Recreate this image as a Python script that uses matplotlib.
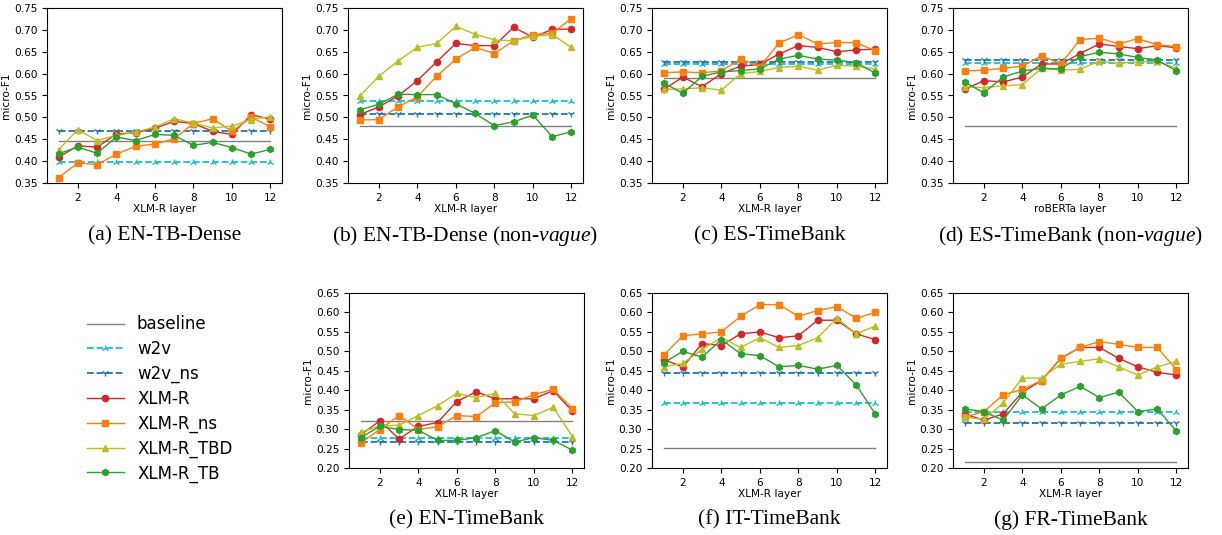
import matplotlib
matplotlib.use('Agg')
import matplotlib.pyplot as plt

layers = list(range(1, 13))

titles = ['(a) EN-TB-Dense', '(b) EN-TB-Dense (non-$\\mathit{vague}$)', '(c) ES-TimeBank',
          '(d) ES-TimeBank (non-$\\mathit{vague}$)', '(e) EN-TimeBank', '(f) IT-TimeBank',
          '(g) FR-TimeBank']
xlabels = ['XLM-R layer', 'XLM-R layer', 'XLM-R layer', 'roBERTa layer',
           'XLM-R layer', 'XLM-R layer', 'XLM-R layer']

baseline = [0.447, 0.481, 0.589, 0.481, 0.321, 0.252, 0.215]
w2v = [0.398, 0.537, 0.621, 0.624, 0.278, 0.368, 0.345]
w2v_ns = [0.470, 0.508, 0.626, 0.631, 0.268, 0.444, 0.316]

xlmr = [
    [0.409, 0.435, 0.432, 0.462, 0.465, 0.475, 0.491, 0.486, 0.468, 0.461, 0.506, 0.496],
    [0.506, 0.524, 0.549, 0.584, 0.627, 0.669, 0.664, 0.664, 0.706, 0.683, 0.701, 0.702],
    [0.564, 0.592, 0.570, 0.600, 0.617, 0.621, 0.645, 0.664, 0.660, 0.650, 0.654, 0.656],
    [0.564, 0.584, 0.581, 0.592, 0.622, 0.622, 0.646, 0.668, 0.662, 0.657, 0.664, 0.659],
    [0.285, 0.321, 0.275, 0.307, 0.317, 0.371, 0.396, 0.378, 0.378, 0.378, 0.399, 0.346],
    [0.479, 0.460, 0.520, 0.515, 0.545, 0.550, 0.535, 0.540, 0.580, 0.580, 0.545, 0.530],
    [0.339, 0.323, 0.339, 0.395, 0.425, 0.482, 0.510, 0.510, 0.482, 0.460, 0.446, 0.439],
]
xlmr_ns = [
    [0.362, 0.396, 0.392, 0.416, 0.434, 0.439, 0.451, 0.486, 0.497, 0.468, 0.500, 0.479],
    [0.494, 0.495, 0.524, 0.547, 0.594, 0.633, 0.660, 0.646, 0.675, 0.689, 0.692, 0.726],
    [0.602, 0.604, 0.602, 0.606, 0.633, 0.616, 0.670, 0.689, 0.668, 0.671, 0.671, 0.652],
    [0.606, 0.608, 0.612, 0.617, 0.641, 0.622, 0.678, 0.681, 0.668, 0.680, 0.666, 0.662],
    [0.264, 0.299, 0.335, 0.299, 0.306, 0.335, 0.332, 0.368, 0.370, 0.389, 0.402, 0.353],
    [0.490, 0.540, 0.545, 0.550, 0.590, 0.620, 0.620, 0.590, 0.605, 0.615, 0.585, 0.600],
    [0.331, 0.345, 0.388, 0.402, 0.425, 0.482, 0.510, 0.525, 0.518, 0.510, 0.510, 0.453],
]
xlmr_tbd = [
    [0.426, 0.472, 0.447, 0.459, 0.466, 0.478, 0.497, 0.487, 0.476, 0.480, 0.495, 0.502],
    [0.548, 0.594, 0.629, 0.660, 0.669, 0.708, 0.690, 0.677, 0.675, 0.685, 0.689, 0.660],
    [0.564, 0.565, 0.568, 0.562, 0.600, 0.605, 0.614, 0.617, 0.608, 0.619, 0.617, 0.610],
    [0.570, 0.568, 0.572, 0.575, 0.612, 0.608, 0.610, 0.629, 0.624, 0.627, 0.628, 0.612],
    [0.292, 0.308, 0.310, 0.335, 0.360, 0.392, 0.381, 0.392, 0.339, 0.335, 0.356, 0.281],
    [0.460, 0.469, 0.505, 0.535, 0.510, 0.535, 0.510, 0.515, 0.535, 0.585, 0.545, 0.565],
    [0.331, 0.325, 0.367, 0.431, 0.431, 0.467, 0.474, 0.481, 0.460, 0.439, 0.460, 0.474],
]
xlmr_tb = [
    [0.417, 0.432, 0.418, 0.455, 0.447, 0.461, 0.459, 0.436, 0.443, 0.431, 0.416, 0.427],
    [0.517, 0.530, 0.553, 0.552, 0.552, 0.531, 0.509, 0.481, 0.490, 0.505, 0.456, 0.467],
    [0.579, 0.555, 0.594, 0.604, 0.607, 0.611, 0.633, 0.642, 0.633, 0.631, 0.625, 0.601],
    [0.581, 0.556, 0.592, 0.606, 0.612, 0.611, 0.639, 0.649, 0.645, 0.637, 0.631, 0.606],
    [0.278, 0.307, 0.299, 0.297, 0.271, 0.271, 0.278, 0.296, 0.267, 0.278, 0.271, 0.246],
    [0.470, 0.500, 0.485, 0.530, 0.494, 0.489, 0.460, 0.464, 0.454, 0.464, 0.414, 0.338],
    [0.352, 0.345, 0.323, 0.388, 0.352, 0.388, 0.410, 0.381, 0.395, 0.345, 0.352, 0.295],
]

ylims = [(0.35, 0.75)] * 4 + [(0.20, 0.65)] * 3

W, H = 1222, 535
# axes boxes in pixels: left, top
boxes = [(47, 8), (348, 8), (652, 8), (953, 8), (349, 293), (652, 293), (953, 293)]
aw, ah = 235, 175

plt.rcParams.update({
    'font.size': 7.6,
    'mathtext.fontset': 'custom',
    'mathtext.it': 'Liberation Serif:italic',
    'mathtext.rm': 'Liberation Serif',
})

fig = plt.figure(figsize=(W / 100, H / 100), dpi=100)

handles = None
for i, (lx, ty) in enumerate(boxes):
    ax = fig.add_axes([lx / W, 1 - (ty + ah) / H, aw / W, ah / H])
    n = len(layers)
    h_base, = ax.plot(layers, [baseline[i]] * n, color='grey', lw=1, label='baseline')
    h_w2v, = ax.plot(layers, [w2v[i]] * n, color='tab:cyan', ls='--', lw=1.3,
                     marker='2', ms=5, label='w2v')
    h_w2vns, = ax.plot(layers, [w2v_ns[i]] * n, color='tab:blue', ls='--', lw=1.3,
                       marker='1', ms=5, label='w2v_ns')
    h_r, = ax.plot(layers, xlmr[i], color='tab:red', marker='o', ms=4.5, lw=1,
                   label='XLM-R')
    h_ns, = ax.plot(layers, xlmr_ns[i], color='tab:orange', marker='s', ms=4.5, lw=1,
                    label='XLM-R_ns')
    h_tbd, = ax.plot(layers, xlmr_tbd[i], color='tab:olive', marker='^', ms=4.5, lw=1,
                     label='XLM-R_TBD')
    h_tb, = ax.plot(layers, xlmr_tb[i], color='tab:green', marker='h', ms=4.5, lw=1,
                    label='XLM-R_TB')
    handles = [h_base, h_w2v, h_w2vns, h_r, h_ns, h_tbd, h_tb]
    lo, hi = ylims[i]
    ax.set_ylim(lo, hi)
    ax.set_yticks([round(lo + 0.05 * k, 2) for k in range(int(round((hi - lo) / 0.05)) + 1)])
    ax.set_xticks([2, 4, 6, 8, 10, 12])
    ax.set_xlim(0.4, 12.6)
    ax.set_xlabel(xlabels[i], labelpad=1)
    ax.set_ylabel('micro-F1', labelpad=2)
    cap_y = 236 if ty < 100 else 520
    fig.text((lx + aw / 2) / W, 1 - cap_y / H, titles[i], ha='center', va='center',
             family='Liberation Serif', fontsize=15.5)

fig.legend(handles=handles, loc='center left', bbox_to_anchor=(87 / W, 1 - 399 / H),
           frameon=False, fontsize=12, handlelength=2.2, handletextpad=0.8,
           borderpad=0, borderaxespad=0, labelspacing=0.4)

fig.savefig('out.png', dpi=100)
